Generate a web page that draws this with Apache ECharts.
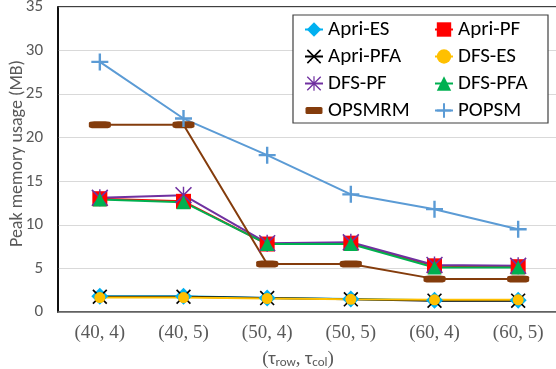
<!DOCTYPE html>
<html>
<head>
<meta charset="utf-8">
<script src="https://cdn.jsdelivr.net/npm/echarts@6/dist/echarts.min.js"></script>
<style>html,body{margin:0;padding:0;background:#fff}#c{width:556px;height:369px}</style>
</head>
<body>
<div id="c"></div>
<script>
var categories = ['(40, 4)', '(40, 5)', '(50, 4)', '(50, 5)', '(60, 4)', '(60, 5)'];
var apriES  = [1.8, 1.8, 1.6, 1.5, 1.35, 1.35];
var apriPF  = [13.0, 12.7, 7.8, 7.9, 5.3, 5.2];
var apriPFA = [1.75, 1.75, 1.6, 1.45, 1.3, 1.3];
var dfsES   = [1.65, 1.65, 1.55, 1.45, 1.4, 1.4];
var dfsPF   = [13.1, 13.4, 7.9, 8.0, 5.4, 5.3];
var dfsPFA  = [12.9, 12.6, 7.8, 7.8, 5.1, 5.1];
var opsmrm  = [21.5, 21.5, 5.5, 5.5, 3.8, 3.8];
var popsm   = [28.7, 22.2, 18.0, 13.5, 11.8, 9.5];
var yTicks = [0, 5, 10, 15, 20, 25, 30, 35];

var SANS = 'Carlito, Lato, sans-serif';
var SERIF = '"Liberation Serif", "DejaVu Serif", serif';

var xPath = 'path://M-0.85,0.85L0.85,-0.85L20.85,19.15L19.15,20.85ZM19.15,-0.85L20.85,0.85L0.85,20.85L-0.85,19.15Z';
var starPath = 'path://M-0.7,0.7L0.7,-0.7L20.7,19.3L19.3,20.7ZM19.3,-0.7L20.7,0.7L0.7,20.7L-0.7,19.3ZM9.1,-0.7H10.9V20.7H9.1Z';
var plusPath = 'path://M8.6,0H11.4V8.6H20V11.4H11.4V20H8.6V11.4H0V8.6H8.6Z';
var barIcon = 'path://M0,0L0,0M18,18L18,18M2,5.5H16Q17.5,5.5 17.5,7V11Q17.5,12.5 16,12.5H2Q0.5,12.5 0.5,11V7Q0.5,5.5 2,5.5Z';

function s(name, data, color, symbol, size) {
  return {
    name: name, type: 'line', data: data,
    symbol: symbol, symbolSize: size, symbolKeepAspect: true,
    showSymbol: true,
    lineStyle: {color: color, width: 2},
    itemStyle: {color: color},
    emphasis: {disabled: true}
  };
}

var legendCommon = {
  z: 4, orient: 'vertical', top: 19, padding: 0, itemWidth: 18, itemHeight: 18, itemGap: 6,
  textStyle: {color: '#000', fontFamily: SANS, fontSize: 21}
};

var chart = echarts.init(document.getElementById('c'));
chart.setOption({
  animation: false,
  grid: {left: 58, top: 7, width: 502, height: 305, outerBoundsMode: 'none', containLabel: false,
         show: true, borderColor: '#000', borderWidth: 1.5, backgroundColor: 'transparent'},
  xAxis: {
    type: 'category', data: categories, boundaryGap: true,
    axisLine: {lineStyle: {color: '#6e6e6e', width: 1.5}},
    axisTick: {show: false},
    axisLabel: {color: '#595959', fontFamily: SERIF, fontSize: 19, margin: 12},
    name: '{p|(}{t|τ}{s|row}{p|, }{t|τ}{s|col}{p|)}',
    nameLocation: 'middle', nameGap: 38, nameMoveOverlap: false,
    nameTextStyle: {
      padding: [0, 22, 0, 0],
      rich: {
        p: {fontFamily: SERIF, fontSize: 19, color: '#595959'},
        t: {fontFamily: SANS, fontSize: 18, color: '#595959'},
        s: {fontFamily: SANS, fontSize: 13, color: '#595959', verticalAlign: 'bottom', padding: [6, 0, 0, 0]}
      }
    }
  },
  yAxis: {
    type: 'value', min: yTicks[0], max: yTicks[yTicks.length - 1], interval: 5,
    axisLine: {show: true, lineStyle: {color: '#000', width: 1.5}},
    axisTick: {show: false},
    splitLine: {lineStyle: {color: '#d9d9d9', width: 1}},
    axisLabel: {color: '#595959', fontFamily: SANS, fontSize: 17, margin: 15},
    name: 'Peak memory usage (MB)', nameLocation: 'middle', nameGap: 32, nameMoveOverlap: false,
    nameTextStyle: {color: '#595959', fontFamily: SANS, fontSize: 18, padding: [0, 0, 0, 12]}
  },
  graphic: [{
    type: 'rect', z: 3, shape: {x: 293, y: 15, width: 255, height: 108},
    style: {fill: '#fff', stroke: '#404040', lineWidth: 1.2}
  }],
  legend: [
    Object.assign({}, legendCommon, {left: 304, data: ['Apri-ES', 'Apri-PFA', 'DFS-PF', {name: 'OPSMRM', icon: barIcon}]}),
    Object.assign({}, legendCommon, {left: 434, data: ['Apri-PF', 'DFS-ES', 'DFS-PFA', 'POPSM']})
  ],
  series: [
    s('Apri-ES', apriES, '#00B0F0', 'diamond', 17),
    s('Apri-PF', apriPF, '#FF0000', 'rect', 15),
    s('Apri-PFA', apriPFA, '#000000', xPath, 15),
    s('DFS-ES', dfsES, '#FFC000', 'circle', 11),
    s('DFS-PF', dfsPF, '#7030A0', starPath, 17),
    s('DFS-PFA', dfsPFA, '#00B050', 'triangle', 14),
    s('OPSMRM', opsmrm, '#843C0C', 'roundRect', [22, 7]),
    s('POPSM', popsm, '#5B9BD5', plusPath, 17)
  ]
});
</script>
</body>
</html>
